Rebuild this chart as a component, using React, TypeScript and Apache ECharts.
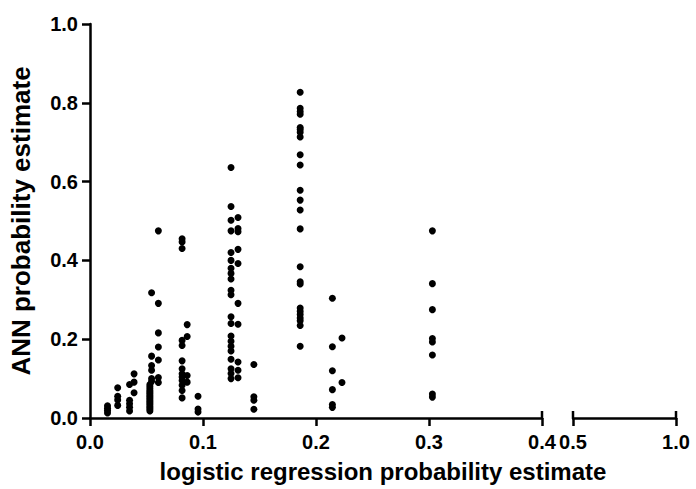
import React, { useEffect, useRef } from "react";
import * as echarts from "echarts";

// x positions of the point columns (logistic regression estimate)
const columnX = [
  0.0155, 0.0245, 0.035, 0.039, 0.053, 0.0545, 0.0605, 0.0815, 0.086, 0.0956,
  0.1248, 0.131, 0.145, 0.186, 0.2145, 0.223, 0.303,
];
// y values (ANN estimate) for each column
const columnY = [
  [0.013, 0.019, 0.025, 0.031],
  [0.077, 0.055, 0.046, 0.032],
  [0.085, 0.045, 0.036, 0.027, 0.018],
  [0.112, 0.091, 0.064],
  [0.085, 0.08, 0.075, 0.07, 0.066, 0.062, 0.058, 0.054, 0.05, 0.046, 0.042, 0.038, 0.034, 0.03, 0.026, 0.022, 0.018],
  [0.318, 0.157, 0.133, 0.121, 0.1, 0.093],
  [0.475, 0.291, 0.216, 0.18, 0.147, 0.103, 0.09],
  [0.455, 0.447, 0.43, 0.197, 0.184, 0.145, 0.125, 0.112, 0.104, 0.095, 0.083, 0.07, 0.051],
  [0.237, 0.207, 0.108, 0.091],
  [0.055, 0.023, 0.015],
  [0.636, 0.537, 0.502, 0.475, 0.42, 0.4, 0.38, 0.367, 0.353, 0.324, 0.313, 0.257, 0.24, 0.208, 0.195, 0.182, 0.17, 0.149, 0.125, 0.113, 0.1],
  [0.509, 0.481, 0.473, 0.428, 0.392, 0.291, 0.238, 0.142, 0.121, 0.102],
  [0.136, 0.054, 0.045, 0.022],
  [0.827, 0.786, 0.778, 0.771, 0.737, 0.732, 0.725, 0.713, 0.668, 0.642, 0.578, 0.553, 0.528, 0.48, 0.384, 0.346, 0.34, 0.279, 0.271, 0.263, 0.254, 0.247, 0.235, 0.182],
  [0.304, 0.181, 0.12, 0.072, 0.034, 0.027],
  [0.203, 0.09],
  [0.475, 0.341, 0.275, 0.202, 0.193, 0.16, 0.061, 0.053],
];

const xTitle = "logistic regression probability estimate";
const yTitle = "ANN probability estimate";
const leftRange = [0, 0.4];
const rightRange = [0.5, 1.0];
const yRange = [0, 1];

const FONT = '"Liberation Sans", Arial, sans-serif';

export default function App() {
  const ref = useRef<HTMLDivElement>(null);
  useEffect(() => {
    if (!ref.current) return;
    const chart = echarts.init(ref.current, null, { renderer: "svg" });
    const points: number[][] = [];
    columnX.forEach((x, i) => columnY[i].forEach((y) => points.push([x, y])));

    const axisLine = { show: true, lineStyle: { color: "#000", width: 2.5 } };
    const axisTick = { show: true, length: 8, inside: false, lineStyle: { color: "#000", width: 2.5 } };
    const axisLabel = {
      color: "#000",
      fontFamily: FONT,
      fontWeight: "bold" as const,
      fontSize: 20,
      formatter: (v: number) => v.toFixed(1),
    };
    const xTitleGraphic = {
      type: "text",
      x: 383,
      y: 471,
      style: {
        text: xTitle,
        fill: "#000",
        font: `bold 24px ${FONT}`,
        align: "center",
        verticalAlign: "middle",
      },
    };

    chart.setOption({
      animation: false,
      backgroundColor: "#fff",
      grid: [
        { left: 90, top: 24, width: 452, height: 394, containLabel: false, outerBoundsMode: "none" },
        { left: 573, top: 24, width: 103, height: 394, containLabel: false, outerBoundsMode: "none" },
      ],
      xAxis: [
        {
          type: "value",
          gridIndex: 0,
          min: leftRange[0],
          max: leftRange[1],
          interval: 0.1,
          axisLine,
          axisTick,
          axisLabel: { ...axisLabel, margin: 14 },
          splitLine: { show: false },
        },
        {
          type: "value",
          gridIndex: 1,
          min: rightRange[0],
          max: rightRange[1],
          interval: 0.5,
          axisLine,
          axisTick,
          axisLabel: { ...axisLabel, margin: 14 },
          splitLine: { show: false },
        },
      ],
      yAxis: [
        {
          type: "value",
          gridIndex: 0,
          min: yRange[0],
          max: yRange[1],
          interval: 0.2,
          axisLine,
          axisTick,
          axisLabel: { ...axisLabel, margin: 12 },
          splitLine: { show: false },
          name: yTitle,
          nameLocation: "middle",
          nameGap: 56,
          nameTextStyle: { color: "#000", fontFamily: FONT, fontWeight: "bold", fontSize: 26 },
        },
        {
          type: "value",
          gridIndex: 1,
          min: yRange[0],
          max: yRange[1],
          show: false,
          splitLine: { show: false },
        },
      ],
      graphic: [xTitleGraphic],
      series: [
        {
          type: "scatter",
          xAxisIndex: 0,
          yAxisIndex: 0,
          symbol: "circle",
          symbolSize: 7,
          itemStyle: { color: "#000", opacity: 1 },
          data: points,
        },
      ],
    });

    // upward halves of the end ticks at the axis break
    const ends: [number, number][] = [
      [0, leftRange[1]],
      [1, rightRange[0]],
      [1, rightRange[1]],
    ];
    const extra = ends.map(([g, v]) => {
      const p = chart.convertToPixel({ gridIndex: g }, [v, yRange[0]]) as number[];
      return {
        type: "line",
        shape: { x1: p[0], y1: p[1] - 7, x2: p[0], y2: p[1] },
        style: { stroke: "#000", lineWidth: 2.5 },
      };
    });
    chart.setOption({ graphic: [xTitleGraphic, ...extra] });
    return () => chart.dispose();
  }, []);
  return (
    <div
      ref={ref}
      style={{ position: "absolute", left: 0, top: 0, width: 696, height: 489 }}
    />
  );
}
